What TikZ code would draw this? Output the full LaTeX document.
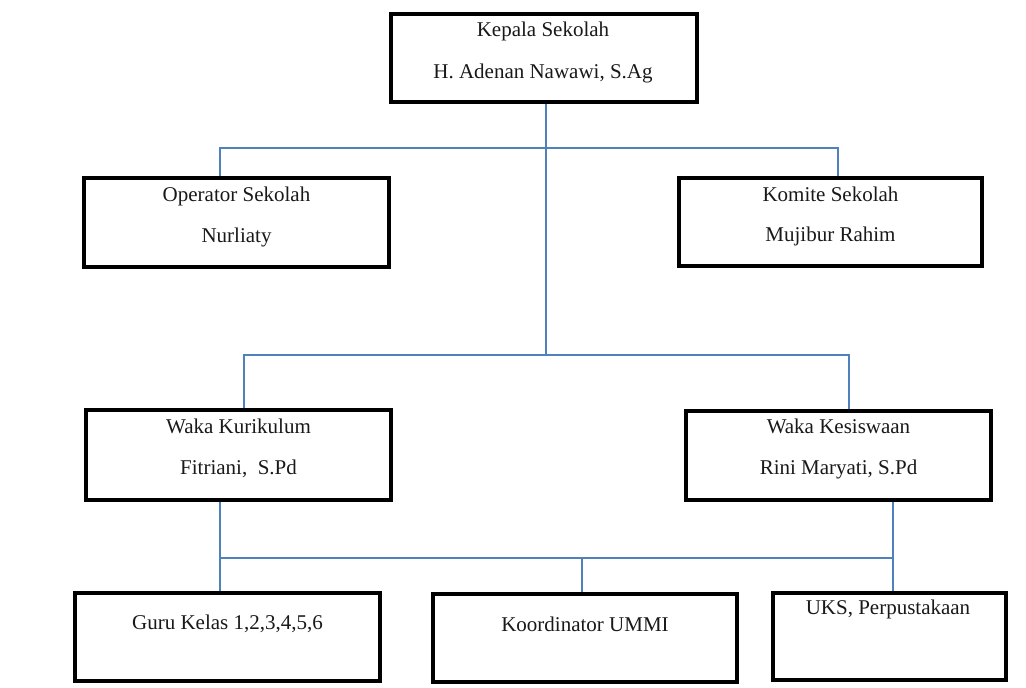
\documentclass[tikz,border=0pt]{standalone}
\usepackage{fontspec}
\setmainfont{Liberation Serif}
\definecolor{linkblue}{RGB}{79,129,189}
\tikzset{
  orgbox/.style={draw=black, line width=3.6pt, rectangle, inner sep=0pt, fill=white},
  lbl/.style={anchor=base, inner sep=0pt, font=\fontsize{21}{25}\selectfont, text=black!90},
  conn/.style={draw=linkblue, line width=1.4pt}
}
\begin{document}
\begin{tikzpicture}[x=1pt,y=-1pt]
\useasboundingbox (0,0) rectangle (1026,688);
\fill[white] (0,0) rectangle (1026,688);

% connector anchor points
\coordinate (kbot) at (546,102);
\coordinate (bus1) at (546,148);
\coordinate (bus2) at (546,355);
\coordinate (optop) at (220,178);
\coordinate (komtop) at (838,178);
\coordinate (wktop) at (244,410);
\coordinate (wkstop) at (849,411);
\coordinate (wkbot) at (220,500);
\coordinate (wksbot) at (893,500);
\coordinate (gurutop) at (220,593);
\coordinate (koortop) at (582,594);
\coordinate (ukstop) at (893,593);
\coordinate (bus3) at (582,558);

% connectors
\draw[conn] (kbot) -- (bus2);
\draw[conn] (optop) -- (optop |- bus1) -- (komtop |- bus1) -- (komtop);
\draw[conn] (wktop) -- (wktop |- bus2) -- (wkstop |- bus2) -- (wkstop);
\draw[conn] (wkbot) -- (gurutop);
\draw[conn] (wksbot) -- (ukstop);
\draw[conn] (wkbot |- bus3) -- (wksbot |- bus3);
\draw[conn] (bus3) -- (koortop);

% boxes
\node[orgbox, minimum width=306pt, minimum height=88pt] (kep) at (544,58) {};
\node[orgbox, minimum width=305pt, minimum height=89pt] (op) at (236.5,222.5) {};
\node[orgbox, minimum width=303pt, minimum height=88pt] (kom) at (830.5,222) {};
\node[orgbox, minimum width=305pt, minimum height=90pt] (wk) at (238.5,455) {};
\node[orgbox, minimum width=305pt, minimum height=89pt] (wks) at (838.5,455.5) {};
\node[orgbox, minimum width=305pt, minimum height=88pt] (guru) at (227.5,637) {};
\node[orgbox, minimum width=304pt, minimum height=88pt] (koor) at (585,638) {};
\node[orgbox, minimum width=233pt, minimum height=87pt] (uks) at (889.5,636.5) {};

% texts
\node[lbl] (t1a) at (543,36.5) {Kepala Sekolah};
\node[lbl] (t1b) at (543,78) {H. Adenan Nawawi, S.Ag};
\node[lbl] (t2a) at (236.5,201) {Operator Sekolah};
\node[lbl] (t2b) at (236.5,242) {Nurliaty};
\node[lbl] (t3a) at (830.5,201) {Komite Sekolah};
\node[lbl] (t3b) at (830.5,241.5) {Mujibur Rahim};
\node[lbl] (t4a) at (238.5,433.5) {Waka Kurikulum};
\node[lbl] (t4b) at (238.5,474.5) {Fitriani,\ \ S.Pd};
\node[lbl] (t5a) at (838.5,433.5) {Waka Kesiswaan};
\node[lbl] (t5b) at (838.5,474.5) {Rini Maryati, S.Pd};
\node[lbl] (t6) at (227.5,629.5) {Guru Kelas 1,2,3,4,5,6};
\node[lbl] (t7) at (585,631.5) {Koordinator UMMI};
\node[lbl] (t8) at (888,614.5) {UKS, Perpustakaan};
\end{tikzpicture}
\end{document}
